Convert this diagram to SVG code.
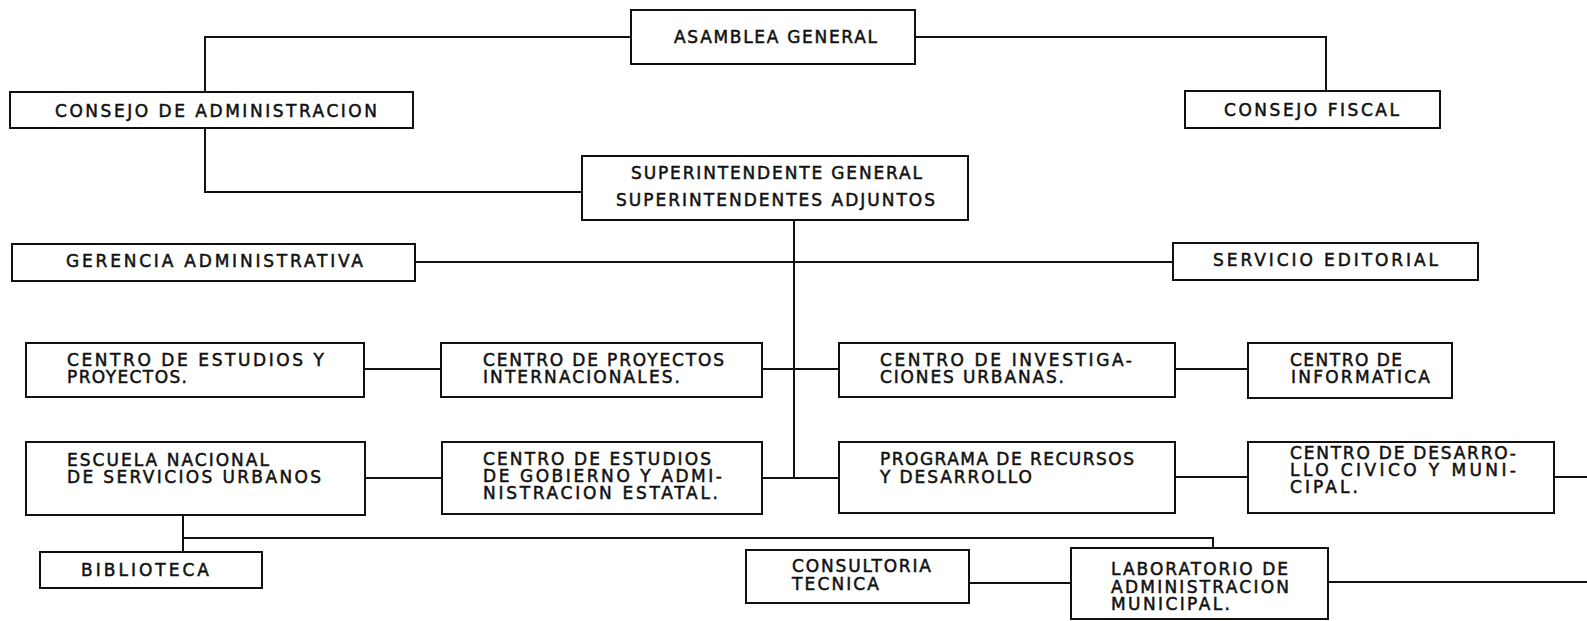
<svg xmlns="http://www.w3.org/2000/svg" width="1587" height="621" viewBox="0 0 1587 621">
  <style>
    .box { fill: #fff; stroke: #111; stroke-width: 2; }
    .wire { fill: none; stroke: #111; stroke-width: 2; }
    text { font-family: "DejaVu Sans", "Liberation Sans", sans-serif; font-size: 17px; fill: #111; stroke: #111; stroke-width: 0.5; }
  </style>
  <rect width="1587" height="621" fill="#fff"/>

  <!-- connectors -->
  <g id="connectors" class="wire">
    <polyline points="631,37 205,37 205,92"/>
    <polyline points="205,128 205,192 582,192"/>
    <polyline points="915,37 1326,37 1326,91"/>
    <line x1="794" y1="220" x2="794" y2="477"/>
    <line x1="415" y1="262" x2="1173" y2="262"/>
    <line x1="364" y1="369" x2="441" y2="369"/>
    <line x1="762" y1="369" x2="839" y2="369"/>
    <line x1="1175" y1="369" x2="1248" y2="369"/>
    <line x1="365" y1="478" x2="442" y2="478"/>
    <line x1="762" y1="478" x2="839" y2="478"/>
    <line x1="1175" y1="477" x2="1248" y2="477"/>
    <line x1="1554" y1="477" x2="1587" y2="477"/>
    <line x1="183" y1="515" x2="183" y2="552"/>
    <polyline points="183,538 1213,538 1213,548"/>
    <line x1="969" y1="583" x2="1071" y2="583"/>
    <line x1="1328" y1="582" x2="1587" y2="582"/>
  </g>

  <g id="asamblea-general">
    <rect class="box" x="631" y="10" width="284" height="54"/>
    <text x="674" y="43" textLength="203" lengthAdjust="spacing">ASAMBLEA GENERAL</text>
  </g>

  <g id="consejo-administracion">
    <rect class="box" x="10" y="92" width="403" height="36"/>
    <text x="55" y="117" textLength="322" lengthAdjust="spacing">CONSEJO DE ADMINISTRACION</text>
  </g>

  <g id="consejo-fiscal">
    <rect class="box" x="1185" y="91" width="255" height="37"/>
    <text x="1224" y="116" textLength="175" lengthAdjust="spacing">CONSEJO FISCAL</text>
  </g>

  <g id="superintendencia">
    <rect class="box" x="582" y="156" width="386" height="64"/>
    <text x="631" y="179" textLength="291" lengthAdjust="spacing">SUPERINTENDENTE GENERAL</text>
    <text x="616" y="206" textLength="319" lengthAdjust="spacing">SUPERINTENDENTES ADJUNTOS</text>
  </g>

  <g id="gerencia-administrativa">
    <rect class="box" x="12" y="244" width="403" height="37"/>
    <text x="66" y="267" textLength="297" lengthAdjust="spacing">GERENCIA ADMINISTRATIVA</text>
  </g>

  <g id="servicio-editorial">
    <rect class="box" x="1173" y="243" width="305" height="37"/>
    <text x="1213" y="266" textLength="225" lengthAdjust="spacing">SERVICIO EDITORIAL</text>
  </g>

  <g id="centro-estudios-proyectos">
    <rect class="box" x="26" y="343" width="338" height="54"/>
    <text x="67" y="366" textLength="257" lengthAdjust="spacing">CENTRO DE ESTUDIOS Y</text>
    <text x="67" y="383" textLength="120" lengthAdjust="spacing">PROYECTOS.</text>
  </g>

  <g id="centro-proyectos-internacionales">
    <rect class="box" x="441" y="343" width="321" height="54"/>
    <text x="483" y="366" textLength="241" lengthAdjust="spacing">CENTRO DE PROYECTOS</text>
    <text x="483" y="383" textLength="197" lengthAdjust="spacing">INTERNACIONALES.</text>
  </g>

  <g id="centro-investigaciones-urbanas">
    <rect class="box" x="839" y="343" width="336" height="54"/>
    <text x="880" y="366" textLength="252" lengthAdjust="spacing">CENTRO DE INVESTIGA-</text>
    <text x="880" y="383" textLength="184" lengthAdjust="spacing">CIONES URBANAS.</text>
  </g>

  <g id="centro-informatica">
    <rect class="box" x="1248" y="343" width="204" height="55"/>
    <text x="1290" y="366" textLength="112" lengthAdjust="spacing">CENTRO DE</text>
    <text x="1291" y="383" textLength="139" lengthAdjust="spacing">INFORMATICA</text>
  </g>

  <g id="escuela-nacional">
    <rect class="box" x="26" y="442" width="339" height="73"/>
    <text x="67" y="466" textLength="202" lengthAdjust="spacing">ESCUELA NACIONAL</text>
    <text x="67" y="483" textLength="254" lengthAdjust="spacing">DE SERVICIOS URBANOS</text>
  </g>

  <g id="centro-estudios-gobierno">
    <rect class="box" x="442" y="442" width="320" height="72"/>
    <text x="483" y="465" textLength="228" lengthAdjust="spacing">CENTRO DE ESTUDIOS</text>
    <text x="483" y="482" textLength="239" lengthAdjust="spacing">DE GOBIERNO Y ADMI-</text>
    <text x="483" y="499" textLength="235" lengthAdjust="spacing">NISTRACION ESTATAL.</text>
  </g>

  <g id="programa-recursos">
    <rect class="box" x="839" y="442" width="336" height="71"/>
    <text x="880" y="465" textLength="254" lengthAdjust="spacing">PROGRAMA DE RECURSOS</text>
    <text x="880" y="483" textLength="152" lengthAdjust="spacing">Y DESARROLLO</text>
  </g>

  <g id="centro-desarrollo-civico">
    <rect class="box" x="1248" y="442" width="306" height="71"/>
    <text x="1290" y="459" textLength="226" lengthAdjust="spacing">CENTRO DE DESARRO-</text>
    <text x="1290" y="476" textLength="226" lengthAdjust="spacing">LLO CIVICO Y MUNI-</text>
    <text x="1290" y="493" textLength="68" lengthAdjust="spacing">CIPAL.</text>
  </g>

  <g id="biblioteca">
    <rect class="box" x="40" y="552" width="222" height="36"/>
    <text x="81" y="576" textLength="128" lengthAdjust="spacing">BIBLIOTECA</text>
  </g>

  <g id="consultoria-tecnica">
    <rect class="box" x="746" y="550" width="223" height="53"/>
    <text x="792" y="572" textLength="139" lengthAdjust="spacing">CONSULTORIA</text>
    <text x="792" y="590" textLength="87" lengthAdjust="spacing">TECNICA</text>
  </g>

  <g id="laboratorio-administracion">
    <rect class="box" x="1071" y="548" width="257" height="71"/>
    <text x="1111" y="575" textLength="177" lengthAdjust="spacing">LABORATORIO DE</text>
    <text x="1111" y="593" textLength="178" lengthAdjust="spacing">ADMINISTRACION</text>
    <text x="1111" y="610" textLength="119" lengthAdjust="spacing">MUNICIPAL.</text>
  </g>
</svg>
